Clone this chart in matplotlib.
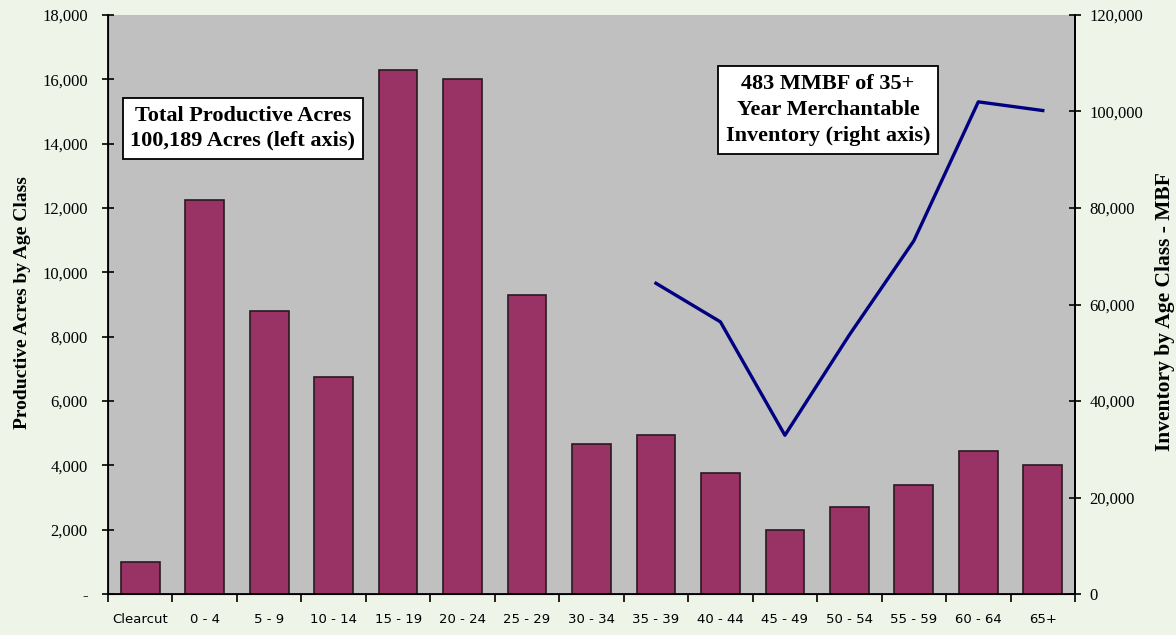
import numpy as np
import matplotlib
matplotlib.use('Agg')
import matplotlib.pyplot as plt
from matplotlib.ticker import FuncFormatter, FixedLocator

# data
age_classes = ['Clearcut', '0 - 4', '5 - 9', '10 - 14', '15 - 19', '20 - 24',
               '25 - 29', '30 - 34', '35 - 39', '40 - 44', '45 - 49',
               '50 - 54', '55 - 59', '60 - 64', '65+']
acres = [1000, 12250, 8800, 6750, 16300, 16000, 9300, 4650, 4950, 3750,
         2000, 2700, 3400, 4450, 4000]
inventory_classes = ['35 - 39', '40 - 44', '45 - 49', '50 - 54', '55 - 59',
                     '60 - 64', '65+']
inventory_mbf = [64400, 56400, 32900, 53700, 73200, 102000, 100200]

left_box = 'Total Productive Acres\n100,189 Acres (left axis)'
right_box = '483 MMBF of 35+\nYear Merchantable\nInventory (right axis)'

serif = 'Liberation Serif'
bg = '#eef4e8'

fig = plt.figure(figsize=(11.76, 6.35), dpi=100, facecolor=bg)
ax = fig.add_axes([108/1176, 1 - 594/635, (1075-108)/1176, (594-15)/635])
ax.set_facecolor('#c0c0c0')

x = np.arange(len(age_classes))
ax.bar(x, acres, width=0.6, color='#993366', edgecolor='#2a1a20', linewidth=1.2, zorder=2)
ax.set_xlim(-0.5, len(age_classes) - 0.5)
ax.set_ylim(0, 18000)
ax.set_yticks(np.arange(0, 18001, 2000))
ax.yaxis.set_major_formatter(FuncFormatter(lambda v, p: '-' if v == 0 else '{:,.0f}'.format(v)))

# category labels at centres, tick marks at the boundaries
ax.set_xticks(x)
ax.set_xticklabels(age_classes, fontsize=9.5, family='DejaVu Sans')
ax.tick_params(axis='x', which='major', length=0, pad=14)
ax.xaxis.set_minor_locator(FixedLocator(np.arange(-0.5, len(age_classes), 1.0)))
ax.tick_params(axis='x', which='minor', length=6, width=1.2, direction='out')
ax.tick_params(axis='y', length=9, width=1.2, direction='inout', labelsize=12, pad=10)
for lab in ax.get_yticklabels():
    lab.set_family(serif)

ax.spines['top'].set_visible(False)
for s in ['left', 'bottom', 'right']:
    ax.spines[s].set_linewidth(1.3)

ax.set_ylabel('Productive Acres by Age Class', family=serif, fontweight='bold', fontsize=14)
ax.yaxis.set_label_coords(-0.080, 0.504)

ax2 = ax.twinx()
xi = [age_classes.index(c) for c in inventory_classes]
ax2.plot(xi, inventory_mbf, color='#000080', linewidth=2.4, zorder=3)
ax2.set_ylim(0, 120000)
ax2.set_yticks(np.arange(0, 120001, 20000))
ax2.yaxis.set_major_formatter(FuncFormatter(lambda v, p: '{:,.0f}'.format(v)))
ax2.tick_params(axis='y', length=9, width=1.2, direction='inout', labelsize=12, pad=6)
for lab in ax2.get_yticklabels():
    lab.set_family(serif)
ax2.spines['top'].set_visible(False)
ax2.spines['right'].set_linewidth(1.3)
ax2.set_ylabel('Inventory by Age Class - MBF', family=serif, fontweight='bold', fontsize=15.5)
ax2.yaxis.set_label_coords(1.0827, 0.487)

box = dict(boxstyle='square,pad=0.35', facecolor='white', edgecolor='black', linewidth=1.3)
fig.text(243/1176, 1 - 128.5/635, left_box, family=serif, fontweight='bold', fontsize=16,
         ha='center', va='center', linespacing=1.3, bbox=box)
fig.text(828/1176, 1 - 110/635, right_box, family=serif, fontweight='bold', fontsize=16,
         ha='center', va='center', linespacing=1.4, bbox=box)

fig.savefig('out.png', dpi=100, facecolor=bg)
